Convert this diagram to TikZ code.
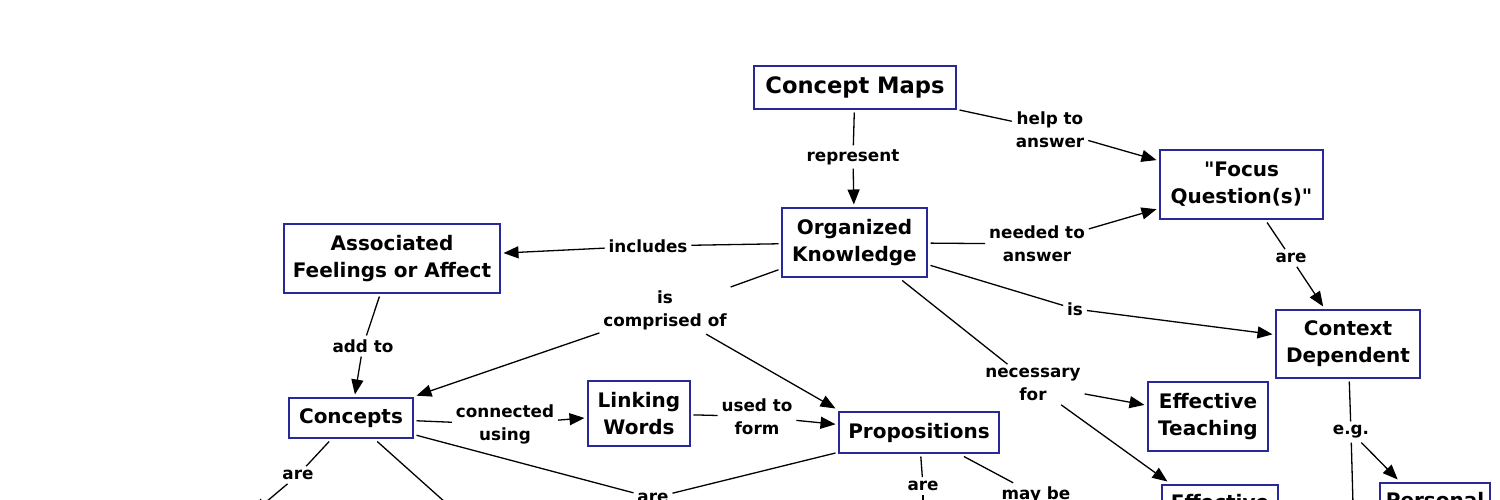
\documentclass[tikz,border=0pt]{standalone}
\usepackage{fontspec}
\setmainfont{DejaVu Sans}[Ligatures=TeXOff]
\usetikzlibrary{arrows.meta}
\definecolor{boxblue}{RGB}{40,40,150}
\newcommand\cmTitleFont{\fontsize{22.6}{27}\selectfont\bfseries}
\newcommand\cmNodeFont{\fontsize{20}{27}\selectfont\bfseries}
\newcommand\cmLabFont{\fontsize{16.8}{23}\selectfont\bfseries}
\tikzset{
  box/.style={draw=boxblue, line width=1.5pt, fill=white, font=\cmNodeFont, align=center, inner sep=0pt, outer sep=3.5pt},
  lab/.style={font=\cmLabFont, align=center, inner sep=1pt, outer sep=3pt},
  arr/.style={-{Triangle[length=15pt,width=12pt]}},
  conn/.style={line width=1.3pt, black}
}
\begin{document}
\begin{tikzpicture}[x=1pt, y=-1pt]
\useasboundingbox (0,0) rectangle (1500,500);
\fill[white] (0,0) rectangle (1500,500);
\clip (0,0) rectangle (1500,500);
% concept boxes
\node[box, font=\cmTitleFont, minimum width=202, minimum height=43] (cm) at (855,87.5) {Concept Maps};
\node[box, minimum width=145, minimum height=69] (ok) at (854.5,242.5) {Organized\\Knowledge};
\node[box, minimum width=163, minimum height=69] (fq) at (1241.5,184.5) {"Focus\\Question(s)"};
\node[box, minimum width=216, minimum height=69] (af) at (392,258.5) {Associated\\Feelings or Affect};
\node[box, minimum width=144, minimum height=68] (cd) at (1348,344) {Context\\Dependent};
\node[box, minimum width=124, minimum height=40] (con) at (351,418) {Concepts};
\node[box, minimum width=102, minimum height=65] (lw) at (639,413.5) {Linking\\Words};
\node[box, minimum width=160, minimum height=41] (pr) at (919,432.5) {Propositions};
\node[box, minimum width=120, minimum height=69] (et) at (1208,416.5) {Effective\\Teaching};
\node[box, minimum width=116, minimum height=69] (el) at (1220,519.5) {Effective\\\strut};
\node[box, minimum width=110, minimum height=69] (pe) at (1435,517.5) {Personal\\\strut};
% linking labels
\node[lab] (rep) at (853,157) {represent};
\node[lab] (hta) at (1050,129.5) {help to\\answer};
\node[lab] (nta) at (1037,244) {needed to\\answer};
\node[lab] (inc) at (648,246) {includes};
\node[lab] (ico) at (665,310.5) {is\\comprised of};
\node[lab] (is) at (1075,309) {is};
\node[lab] (nfor) at (1033,384.5) {necessary\\for};
\node[lab] (add) at (363,346) {add to};
\node[lab] (are1) at (1291,258) {are};
\node[lab] (eg) at (1351,432) {e.g.};
\node[lab] (cu) at (505,424.5) {connected\\using};
\node[lab] (utf) at (757,416.5) {used to\\form};
\node[lab] (are2) at (298,475) {are};
\node[lab] (are3) at (653,498) {are};
\node[lab] (are4) at (923,486) {are};
\node[lab] (mb) at (1036,495) {may be};
% off-picture ends
\coordinate (c1) at (253,513);
\coordinate (c2) at (465,520);
\coordinate (c3) at (923,530);
\coordinate (c4) at (1354,540);
% connectors
\draw[conn] (cm) -- (rep);
\draw[conn, arr] (rep) -- (ok);
\draw[conn] (cm) -- (hta);
\draw[conn, arr] (hta) -- (fq);
\draw[conn] (ok) -- (nta);
\draw[conn, arr] (nta) -- (fq);
\draw[conn] (ok) -- (inc);
\draw[conn, arr] (inc) -- (af);
\draw[conn] (ok) -- (ico);
\draw[conn, arr] (ico) -- (con);
\draw[conn, arr] (ico) -- (pr.north west);
\draw[conn] (ok) -- (is);
\draw[conn, arr] (is) -- (cd);
\draw[conn] (ok) -- (nfor);
\draw[conn, arr] (nfor) -- (et);
\draw[conn, arr] (nfor) -- (el);
\draw[conn] (af) -- (add);
\draw[conn, arr] (add) -- (con);
\draw[conn] (fq) -- (are1);
\draw[conn, arr] (are1) -- (cd);
\draw[conn] (cd) -- (eg);
\draw[conn, arr] (eg) -- (pe);
\draw[conn] (eg) -- (c4);
\draw[conn] (con) -- (cu);
\draw[conn, arr] (cu) -- (lw);
\draw[conn] (lw) -- (utf);
\draw[conn, arr] (utf) -- (pr);
\draw[conn] (con) -- (are2);
\draw[conn, arr] (are2) -- (c1);
\draw[conn] (con) -- (c2);
\draw[conn] (con) -- (are3);
\draw[conn] (pr) -- (are3);
\draw[conn] (pr) -- (are4);
\draw[conn] (are4) -- (c3);
\draw[conn] (pr) -- (mb);
\end{tikzpicture}
\end{document}
